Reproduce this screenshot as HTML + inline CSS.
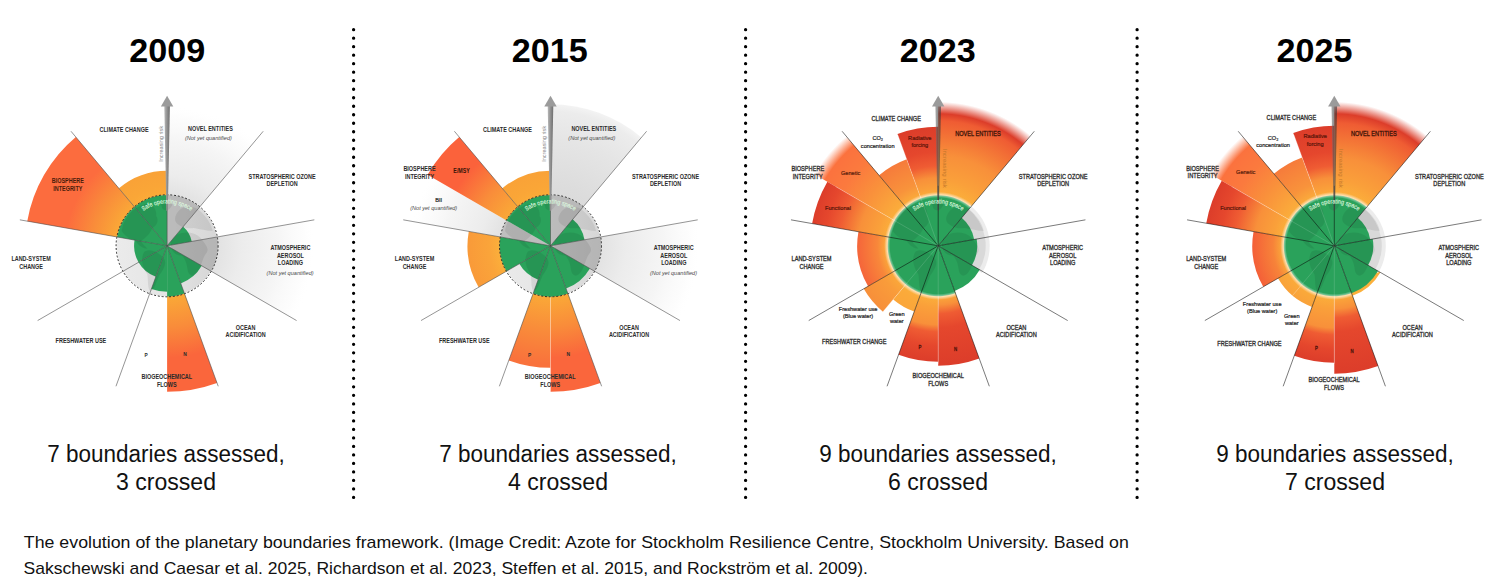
<!DOCTYPE html>
<html><head><meta charset="utf-8"><title>Planetary boundaries</title>
<style>html,body{margin:0;padding:0;background:#fff;overflow:hidden}svg{display:block}text{font-family:"Liberation Sans",sans-serif}</style>
</head><body>
<svg width="1500" height="585" viewBox="0 0 1500 585">
<defs>
<radialGradient id="g1" gradientUnits="userSpaceOnUse" cx="167.1" cy="245.8" r="140"><stop offset="0.0000" stop-color="#dcdcdc" stop-opacity="1"/><stop offset="0.3714" stop-color="#e3e3e3" stop-opacity="1"/><stop offset="0.5000" stop-color="#ececec" stop-opacity="1"/><stop offset="0.7500" stop-color="#f5f5f5" stop-opacity="1"/><stop offset="0.9200" stop-color="#fbfbfb" stop-opacity="0.6"/><stop offset="1.0000" stop-color="#ffffff" stop-opacity="0"/></radialGradient>
<radialGradient id="g2" gradientUnits="userSpaceOnUse" cx="167.1" cy="245.8" r="148"><stop offset="0.0000" stop-color="#dcdcdc" stop-opacity="1"/><stop offset="0.3514" stop-color="#e3e3e3" stop-opacity="1"/><stop offset="0.5000" stop-color="#ececec" stop-opacity="1"/><stop offset="0.7500" stop-color="#f5f5f5" stop-opacity="1"/><stop offset="0.9200" stop-color="#fbfbfb" stop-opacity="0.6"/><stop offset="1.0000" stop-color="#ffffff" stop-opacity="0"/></radialGradient>
<radialGradient id="g3" gradientUnits="userSpaceOnUse" cx="167.1" cy="245.8" r="142"><stop offset="0.3521" stop-color="#faa937"/><stop offset="0.5352" stop-color="#f98c3a"/><stop offset="0.7183" stop-color="#fc6c3e"/><stop offset="1.0000" stop-color="#fc6c3e"/></radialGradient>
<radialGradient id="g4" gradientUnits="userSpaceOnUse" cx="167.1" cy="245.8" r="75"><stop offset="0.6667" stop-color="#fbab38"/><stop offset="0.7833" stop-color="#faa637"/><stop offset="1.0000" stop-color="#f9a237"/></radialGradient>
<radialGradient id="g5" gradientUnits="userSpaceOnUse" cx="167.1" cy="245.8" r="146"><stop offset="0.3425" stop-color="#faa937"/><stop offset="0.5548" stop-color="#f98c3a"/><stop offset="0.7671" stop-color="#fa663c"/><stop offset="1.0000" stop-color="#fa663c"/></radialGradient>
<linearGradient id="gl167" x1="0" x2="1" y1="0" y2="0"><stop offset="0" stop-color="#ebebeb"/><stop offset="0.5" stop-color="#e4e4e4"/><stop offset="1" stop-color="#d6d6d6"/></linearGradient>
<clipPath id="clip167"><circle cx="167.1" cy="245.8" r="50"/></clipPath>
<linearGradient id="ag167" x1="0" x2="1" y1="0" y2="0"><stop offset="0" stop-color="#b9b9b9"/><stop offset="0.55" stop-color="#8c8c8c"/><stop offset="1" stop-color="#6f6f6f"/></linearGradient>
<path id="sp167" d="M141.06,212.47A42.3,42.3 0 0 1 193.14,212.47"/>
<radialGradient id="g6" gradientUnits="userSpaceOnUse" cx="550.5" cy="245.8" r="141.5"><stop offset="0.0000" stop-color="#d4d4d4" stop-opacity="1"/><stop offset="0.4240" stop-color="#dcdcdc" stop-opacity="1"/><stop offset="0.7500" stop-color="#e5e5e5" stop-opacity="1"/><stop offset="0.9500" stop-color="#ececec" stop-opacity="1"/><stop offset="1.0000" stop-color="#f3f3f3" stop-opacity="1"/></radialGradient>
<radialGradient id="g7" gradientUnits="userSpaceOnUse" cx="550.5" cy="245.8" r="150"><stop offset="0.0000" stop-color="#dcdcdc" stop-opacity="1"/><stop offset="0.3467" stop-color="#e3e3e3" stop-opacity="1"/><stop offset="0.5000" stop-color="#ececec" stop-opacity="1"/><stop offset="0.7500" stop-color="#f5f5f5" stop-opacity="1"/><stop offset="0.9200" stop-color="#fbfbfb" stop-opacity="0.6"/><stop offset="1.0000" stop-color="#ffffff" stop-opacity="0"/></radialGradient>
<radialGradient id="g8" gradientUnits="userSpaceOnUse" cx="550.5" cy="245.8" r="140"><stop offset="0.0000" stop-color="#dcdcdc" stop-opacity="1"/><stop offset="0.3714" stop-color="#e3e3e3" stop-opacity="1"/><stop offset="0.5000" stop-color="#ececec" stop-opacity="1"/><stop offset="0.7500" stop-color="#f5f5f5" stop-opacity="1"/><stop offset="0.9200" stop-color="#fbfbfb" stop-opacity="0.6"/><stop offset="1.0000" stop-color="#ffffff" stop-opacity="0"/></radialGradient>
<radialGradient id="g9" gradientUnits="userSpaceOnUse" cx="550.5" cy="245.8" r="142"><stop offset="0.3521" stop-color="#faa937"/><stop offset="0.5634" stop-color="#f98c3a"/><stop offset="0.7746" stop-color="#fb623b"/><stop offset="1.0000" stop-color="#fb623b"/></radialGradient>
<radialGradient id="g10" gradientUnits="userSpaceOnUse" cx="550.5" cy="245.8" r="75"><stop offset="0.6667" stop-color="#fbab38"/><stop offset="0.7833" stop-color="#faa637"/><stop offset="1.0000" stop-color="#f9a237"/></radialGradient>
<radialGradient id="g11" gradientUnits="userSpaceOnUse" cx="550.5" cy="245.8" r="146"><stop offset="0.3425" stop-color="#faa937"/><stop offset="0.5548" stop-color="#f98c3a"/><stop offset="0.7671" stop-color="#fa663c"/><stop offset="1.0000" stop-color="#fa663c"/></radialGradient>
<radialGradient id="g12" gradientUnits="userSpaceOnUse" cx="550.5" cy="245.8" r="122"><stop offset="0.4098" stop-color="#faa937"/><stop offset="0.6885" stop-color="#f98c3a"/><stop offset="0.9672" stop-color="#f9723c"/><stop offset="1.0000" stop-color="#f9723c"/></radialGradient>
<radialGradient id="g13" gradientUnits="userSpaceOnUse" cx="550.5" cy="245.8" r="83"><stop offset="0.6024" stop-color="#fbb03b"/><stop offset="0.7416" stop-color="#faa43a"/><stop offset="1.0000" stop-color="#f99a39"/></radialGradient>
<linearGradient id="gl550" x1="0" x2="1" y1="0" y2="0"><stop offset="0" stop-color="#ebebeb"/><stop offset="0.5" stop-color="#e4e4e4"/><stop offset="1" stop-color="#d6d6d6"/></linearGradient>
<clipPath id="clip550"><circle cx="550.5" cy="245.8" r="50"/></clipPath>
<linearGradient id="ag550" x1="0" x2="1" y1="0" y2="0"><stop offset="0" stop-color="#b9b9b9"/><stop offset="0.55" stop-color="#8c8c8c"/><stop offset="1" stop-color="#6f6f6f"/></linearGradient>
<path id="sp550" d="M524.46,212.47A42.3,42.3 0 0 1 576.54,212.47"/>
<radialGradient id="g14" gradientUnits="userSpaceOnUse" cx="938.2" cy="245.8" r="145"><stop offset="0.3448" stop-color="#fbb03b"/><stop offset="0.4552" stop-color="#faa03a"/><stop offset="0.6207" stop-color="#f8903a"/><stop offset="0.8621" stop-color="#ef5c33"/><stop offset="0.9103" stop-color="#dc3d2a" stop-opacity="1"/><stop offset="0.9931" stop-color="#dc3d2a" stop-opacity="0"/></radialGradient>
<radialGradient id="g15" gradientUnits="userSpaceOnUse" cx="938.2" cy="245.8" r="119"><stop offset="0.4202" stop-color="#fbb03b"/><stop offset="0.4807" stop-color="#faa03a"/><stop offset="0.5714" stop-color="#f8903a"/><stop offset="0.6723" stop-color="#ef5c33"/><stop offset="0.7899" stop-color="#e5472d"/><stop offset="1.0000" stop-color="#dc3d2a"/></radialGradient>
<radialGradient id="g16" gradientUnits="userSpaceOnUse" cx="938.2" cy="245.8" r="92"><stop offset="0.5435" stop-color="#fbb03b"/><stop offset="0.7033" stop-color="#f8933b"/><stop offset="1.0000" stop-color="#f67b3b"/></radialGradient>
<radialGradient id="g17" gradientUnits="userSpaceOnUse" cx="938.2" cy="245.8" r="144"><stop offset="0.3472" stop-color="#fbb03b"/><stop offset="0.5903" stop-color="#f9903b"/><stop offset="0.7639" stop-color="#fb7a3e"/><stop offset="0.9097" stop-color="#fb723e" stop-opacity="1"/><stop offset="0.9931" stop-color="#fb723e" stop-opacity="0"/></radialGradient>
<radialGradient id="g18" gradientUnits="userSpaceOnUse" cx="938.2" cy="245.8" r="128"><stop offset="0.3906" stop-color="#fbb03b"/><stop offset="0.4844" stop-color="#faa03a"/><stop offset="0.6250" stop-color="#f8903a"/><stop offset="0.7812" stop-color="#ef5c33"/><stop offset="0.8906" stop-color="#e5472d"/><stop offset="1.0000" stop-color="#dc3d2a"/></radialGradient>
<radialGradient id="g19" gradientUnits="userSpaceOnUse" cx="938.2" cy="245.8" r="81"><stop offset="0.6173" stop-color="#fbb03b"/><stop offset="0.7512" stop-color="#f8873a"/><stop offset="1.0000" stop-color="#f5653a"/></radialGradient>
<radialGradient id="g20" gradientUnits="userSpaceOnUse" cx="938.2" cy="245.8" r="86"><stop offset="0.5814" stop-color="#fbab3a"/><stop offset="0.7279" stop-color="#f99c3a"/><stop offset="1.0000" stop-color="#f78f3a"/></radialGradient>
<radialGradient id="g21" gradientUnits="userSpaceOnUse" cx="938.2" cy="245.8" r="70"><stop offset="0.7143" stop-color="#fbb03b"/><stop offset="0.8143" stop-color="#fbaa3a"/><stop offset="1.0000" stop-color="#fba63a"/></radialGradient>
<radialGradient id="g22" gradientUnits="userSpaceOnUse" cx="938.2" cy="245.8" r="116"><stop offset="0.4310" stop-color="#fbb03b"/><stop offset="0.5310" stop-color="#faa03a"/><stop offset="0.6810" stop-color="#f8903a"/><stop offset="0.7414" stop-color="#ef5c33"/><stop offset="0.8621" stop-color="#e5472d"/><stop offset="1.0000" stop-color="#dc3d2a"/></radialGradient>
<radialGradient id="g23" gradientUnits="userSpaceOnUse" cx="938.2" cy="245.8" r="120"><stop offset="0.4167" stop-color="#fbb03b"/><stop offset="0.4467" stop-color="#faa03a"/><stop offset="0.4917" stop-color="#f8903a"/><stop offset="0.5667" stop-color="#ef5c33"/><stop offset="0.6833" stop-color="#e5472d"/><stop offset="1.0000" stop-color="#dc3d2a"/></radialGradient>
<clipPath id="clip938"><circle cx="938.2" cy="245.8" r="50"/></clipPath>
<radialGradient id="g24" gradientUnits="userSpaceOnUse" cx="938.2" cy="245.8" r="56"><stop offset="0.8571" stop-color="#ffffff" stop-opacity="0"/><stop offset="0.9107" stop-color="#ffffff" stop-opacity="0.6"/><stop offset="0.9643" stop-color="#ffffff" stop-opacity="0"/></radialGradient>
<linearGradient id="ag938" x1="0" x2="1" y1="0" y2="0"><stop offset="0" stop-color="#777"/><stop offset="0.55" stop-color="#444"/><stop offset="1" stop-color="#333"/></linearGradient>
<path id="sp938" d="M912.16,212.47A42.3,42.3 0 0 1 964.24,212.47"/>
<radialGradient id="g25" gradientUnits="userSpaceOnUse" cx="1334.3" cy="245.8" r="145"><stop offset="0.3448" stop-color="#fbb03b"/><stop offset="0.4497" stop-color="#faa03a"/><stop offset="0.6069" stop-color="#f8903a"/><stop offset="0.8483" stop-color="#ef5c33"/><stop offset="0.9103" stop-color="#dc3d2a" stop-opacity="1"/><stop offset="0.9931" stop-color="#dc3d2a" stop-opacity="0"/></radialGradient>
<radialGradient id="g26" gradientUnits="userSpaceOnUse" cx="1334.3" cy="245.8" r="120"><stop offset="0.4167" stop-color="#fbb03b"/><stop offset="0.4767" stop-color="#faa03a"/><stop offset="0.5667" stop-color="#f8903a"/><stop offset="0.6667" stop-color="#ef5c33"/><stop offset="0.7833" stop-color="#e5472d"/><stop offset="1.0000" stop-color="#dc3d2a"/></radialGradient>
<radialGradient id="g27" gradientUnits="userSpaceOnUse" cx="1334.3" cy="245.8" r="94"><stop offset="0.5319" stop-color="#fbb03b"/><stop offset="0.6957" stop-color="#f8933b"/><stop offset="1.0000" stop-color="#f67b3b"/></radialGradient>
<radialGradient id="g28" gradientUnits="userSpaceOnUse" cx="1334.3" cy="245.8" r="144"><stop offset="0.3472" stop-color="#fbb03b"/><stop offset="0.5903" stop-color="#f9903b"/><stop offset="0.7639" stop-color="#fb7a3e"/><stop offset="0.9097" stop-color="#fb723e" stop-opacity="1"/><stop offset="0.9931" stop-color="#fb723e" stop-opacity="0"/></radialGradient>
<radialGradient id="g29" gradientUnits="userSpaceOnUse" cx="1334.3" cy="245.8" r="130"><stop offset="0.3846" stop-color="#fbb03b"/><stop offset="0.4769" stop-color="#faa03a"/><stop offset="0.6154" stop-color="#f8903a"/><stop offset="0.7692" stop-color="#ef5c33"/><stop offset="0.8769" stop-color="#e5472d"/><stop offset="1.0000" stop-color="#dc3d2a"/></radialGradient>
<radialGradient id="g30" gradientUnits="userSpaceOnUse" cx="1334.3" cy="245.8" r="82"><stop offset="0.6098" stop-color="#fbb03b"/><stop offset="0.7463" stop-color="#f78339"/><stop offset="1.0000" stop-color="#f45f38"/></radialGradient>
<radialGradient id="g31" gradientUnits="userSpaceOnUse" cx="1334.3" cy="245.8" r="65"><stop offset="0.7692" stop-color="#fbb03b"/><stop offset="0.8500" stop-color="#faa83a"/><stop offset="1.0000" stop-color="#f9a23a"/></radialGradient>
<radialGradient id="g32" gradientUnits="userSpaceOnUse" cx="1334.3" cy="245.8" r="117"><stop offset="0.4274" stop-color="#fbb03b"/><stop offset="0.5368" stop-color="#faa03a"/><stop offset="0.7009" stop-color="#f8903a"/><stop offset="0.7607" stop-color="#ef5c33"/><stop offset="0.8803" stop-color="#e5472d"/><stop offset="1.0000" stop-color="#dc3d2a"/></radialGradient>
<radialGradient id="g33" gradientUnits="userSpaceOnUse" cx="1334.3" cy="245.8" r="128"><stop offset="0.3906" stop-color="#fbb03b"/><stop offset="0.4313" stop-color="#faa03a"/><stop offset="0.4922" stop-color="#f8903a"/><stop offset="0.5625" stop-color="#ef5c33"/><stop offset="0.6719" stop-color="#e5472d"/><stop offset="1.0000" stop-color="#dc3d2a"/></radialGradient>
<radialGradient id="g34" gradientUnits="userSpaceOnUse" cx="1334.3" cy="245.8" r="53.2"><stop offset="0.9398" stop-color="#fbb03b"/><stop offset="0.9662" stop-color="#fbb03b"/><stop offset="1.0150" stop-color="#fbb03b"/></radialGradient>
<clipPath id="clip1334"><circle cx="1334.3" cy="245.8" r="50"/></clipPath>
<radialGradient id="g35" gradientUnits="userSpaceOnUse" cx="1334.3" cy="245.8" r="56"><stop offset="0.8571" stop-color="#ffffff" stop-opacity="0"/><stop offset="0.9107" stop-color="#ffffff" stop-opacity="0.6"/><stop offset="0.9643" stop-color="#ffffff" stop-opacity="0"/></radialGradient>
<linearGradient id="ag1334" x1="0" x2="1" y1="0" y2="0"><stop offset="0" stop-color="#777"/><stop offset="0.55" stop-color="#444"/><stop offset="1" stop-color="#333"/></linearGradient>
<path id="sp1334" d="M1308.26,212.47A42.3,42.3 0 0 1 1360.34,212.47"/>
</defs>
<path d="M167.10,245.80L167.10,105.80A140.00,140.00 0 0 1 257.09,138.55Z" fill="url(#g1)"/><path d="M167.10,245.80L312.85,220.10A148.00,148.00 0 0 1 295.27,319.80Z" fill="url(#g2)"/><path d="M27.26,221.14A142.00,142.00 0 0 1 75.82,137.02L138.17,211.33A45.00,45.00 0 0 0 122.78,237.99Z" fill="url(#g3)"/><path d="M118.89,188.35A75.00,75.00 0 0 1 167.10,170.80L167.10,200.80A45.00,45.00 0 0 0 138.17,211.33Z" fill="url(#g4)"/><path d="M217.03,383.00A146.00,146.00 0 0 1 167.10,391.80L167.10,290.80A45.00,45.00 0 0 0 182.49,288.09Z" fill="url(#g5)"/><circle cx="167.1" cy="245.8" r="50.5" fill="url(#gl167)"/><path d="M167.10,245.80L167.10,195.00A50.80,50.80 0 0 1 199.75,206.88Z" fill="#9a9a9a" fill-opacity="0.55"/><path d="M167.10,245.80L217.13,236.98A50.80,50.80 0 0 1 211.09,271.20Z" fill="#9a9a9a" fill-opacity="0.55"/><path d="M167.10,245.80L134.45,206.88A50.80,50.80 0 0 1 167.10,195.00Z" fill="#2aa25b"/><path d="M167.10,245.80L117.07,236.98A50.80,50.80 0 0 1 134.45,206.88Z" fill="#2aa25b"/><path d="M167.10,245.80L183.17,226.65A25.00,25.00 0 0 1 191.72,241.46Z" fill="#2aa25b"/><path d="M167.10,245.80L201.74,265.80A40.00,40.00 0 0 1 180.78,283.39Z" fill="#2aa25b"/><path d="M167.10,245.80L184.47,293.54A50.80,50.80 0 0 1 167.10,296.60Z" fill="#2aa25b"/><path d="M167.10,245.80L167.10,291.80A46.00,46.00 0 0 1 151.37,289.03Z" fill="#2aa25b"/><path d="M167.10,245.80L155.81,276.81A33.00,33.00 0 0 1 138.52,262.30Z" fill="#2aa25b"/><path d="M167.10,245.80L138.52,262.30A33.00,33.00 0 0 1 134.60,240.07Z" fill="#2aa25b"/><g clip-path="url(#clip167)"><g transform="translate(167.1,245.8) scale(49.5)" fill="#000" fill-opacity="0.075"><path d="M-0.92,-0.30 C-0.88,-0.55 -0.70,-0.78 -0.45,-0.84 C-0.30,-0.86 -0.20,-0.74 -0.22,-0.60 C-0.16,-0.52 -0.20,-0.40 -0.30,-0.36 C-0.34,-0.24 -0.44,-0.16 -0.52,-0.10 C-0.50,-0.02 -0.42,0.02 -0.40,0.06 C-0.48,0.06 -0.58,0.0 -0.64,-0.10 C-0.74,-0.14 -0.84,-0.18 -0.92,-0.30Z"/><path d="M-0.14,-0.90 C-0.02,-0.97 0.12,-0.92 0.10,-0.82 C0.06,-0.72 -0.04,-0.68 -0.10,-0.76Z"/><path d="M-0.46,0.12 C-0.36,0.04 -0.16,0.12 -0.06,0.26 C0.0,0.36 -0.08,0.50 -0.16,0.60 C-0.22,0.74 -0.26,0.90 -0.34,0.92 C-0.40,0.86 -0.38,0.70 -0.40,0.58 C-0.48,0.46 -0.56,0.28 -0.46,0.12Z"/><path d="M0.20,-0.22 C0.34,-0.30 0.56,-0.28 0.68,-0.16 C0.76,-0.04 0.86,0.04 0.80,0.14 C0.72,0.22 0.70,0.40 0.62,0.52 C0.56,0.62 0.46,0.64 0.42,0.52 C0.40,0.38 0.38,0.28 0.30,0.20 C0.20,0.20 0.10,0.14 0.08,0.02 C0.06,-0.10 0.12,-0.18 0.20,-0.22Z"/><path d="M0.18,-0.62 C0.26,-0.80 0.46,-0.84 0.62,-0.74 C0.78,-0.62 0.90,-0.44 0.92,-0.30 C0.80,-0.30 0.66,-0.34 0.54,-0.36 C0.44,-0.34 0.32,-0.36 0.24,-0.42 C0.16,-0.46 0.14,-0.54 0.18,-0.62Z"/></g></g><circle cx="167.1" cy="245.8" r="51" fill="none" stroke="#2a2a2a" stroke-width="1" stroke-dasharray="1.9 1.9"/><line x1="167.1" y1="245.8" x2="167.10" y2="185.80" stroke="#4a4a4a" stroke-opacity="0.9" stroke-width="0.65"/><line x1="167.1" y1="245.8" x2="263.20" y2="131.28" stroke="#4a4a4a" stroke-opacity="0.9" stroke-width="0.65"/><line x1="167.1" y1="245.8" x2="314.33" y2="219.84" stroke="#4a4a4a" stroke-opacity="0.9" stroke-width="0.65"/><line x1="167.1" y1="245.8" x2="296.57" y2="320.55" stroke="#4a4a4a" stroke-opacity="0.9" stroke-width="0.65"/><line x1="167.1" y1="245.8" x2="218.23" y2="386.28" stroke="#4a4a4a" stroke-opacity="0.9" stroke-width="0.65"/><line x1="167.1" y1="245.8" x2="115.97" y2="386.28" stroke="#4a4a4a" stroke-opacity="0.9" stroke-width="0.65"/><line x1="167.1" y1="245.8" x2="37.63" y2="320.55" stroke="#4a4a4a" stroke-opacity="0.9" stroke-width="0.65"/><line x1="167.1" y1="245.8" x2="19.87" y2="219.84" stroke="#4a4a4a" stroke-opacity="0.9" stroke-width="0.65"/><line x1="167.1" y1="245.8" x2="71.00" y2="131.28" stroke="#4a4a4a" stroke-opacity="0.9" stroke-width="0.65"/><path d="M166.40,210.80L164.30,105.80L169.90,105.80L167.80,210.80Z" fill="url(#ag167)" fill-opacity="1"/><path d="M160.90,106.60L167.10,95.80L173.30,106.60Z" fill="#9b9b9b"/><text font-size="6.4" fill="#dcf6df" stroke="#dcf6df" stroke-width="0.15"><textPath href="#sp167" startOffset="50%" text-anchor="middle" textLength="50.5" lengthAdjust="spacingAndGlyphs">Safe operating space</textPath></text><text transform="translate(162.7,161.8) rotate(-90)" font-size="5.6" fill="#858585" textLength="36" lengthAdjust="spacingAndGlyphs">Increasing risk</text>
<path d="M550.50,245.80L550.50,104.30A141.50,141.50 0 0 1 641.45,137.40Z" fill="url(#g6)"/><path d="M550.50,245.80L698.22,219.75A150.00,150.00 0 0 1 680.40,320.80Z" fill="url(#g7)"/><path d="M550.50,245.80L412.63,221.49A140.00,140.00 0 0 1 429.26,175.80Z" fill="url(#g8)"/><path d="M427.52,174.80A142.00,142.00 0 0 1 459.22,137.02L521.57,211.33A45.00,45.00 0 0 0 511.53,223.30Z" fill="url(#g9)"/><path d="M502.29,188.35A75.00,75.00 0 0 1 550.50,170.80L550.50,200.80A45.00,45.00 0 0 0 521.57,211.33Z" fill="url(#g10)"/><path d="M600.43,383.00A146.00,146.00 0 0 1 550.50,391.80L550.50,290.80A45.00,45.00 0 0 0 565.89,288.09Z" fill="url(#g11)"/><path d="M550.50,367.80A122.00,122.00 0 0 1 508.77,360.44L535.11,288.09A45.00,45.00 0 0 0 550.50,290.80Z" fill="url(#g12)"/><path d="M478.62,287.30A83.00,83.00 0 0 1 468.76,231.39L506.18,237.99A45.00,45.00 0 0 0 511.53,268.30Z" fill="url(#g13)"/><circle cx="550.5" cy="245.8" r="50.5" fill="url(#gl550)"/><path d="M550.50,245.80L550.50,195.00A50.80,50.80 0 0 1 583.15,206.88Z" fill="#9a9a9a" fill-opacity="0.55"/><path d="M550.50,245.80L600.53,236.98A50.80,50.80 0 0 1 594.49,271.20Z" fill="#9a9a9a" fill-opacity="0.55"/><path d="M550.50,245.80L500.47,236.98A50.80,50.80 0 0 1 506.51,220.40Z" fill="#9a9a9a" fill-opacity="0.55"/><path d="M550.50,245.80L517.85,206.88A50.80,50.80 0 0 1 550.50,195.00Z" fill="#2aa25b"/><path d="M550.50,245.80L506.51,220.40A50.80,50.80 0 0 1 517.85,206.88Z" fill="#2aa25b"/><path d="M550.50,245.80L572.68,219.37A34.50,34.50 0 0 1 584.48,239.81Z" fill="#2aa25b"/><path d="M550.50,245.80L589.90,268.55A45.50,45.50 0 0 1 566.06,288.56Z" fill="#2aa25b"/><path d="M550.50,245.80L567.87,293.54A50.80,50.80 0 0 1 533.13,293.54Z" fill="#2aa25b"/><path d="M550.50,245.80L538.19,279.63A36.00,36.00 0 0 1 519.32,263.80Z" fill="#2aa25b"/><path d="M550.50,245.80L506.51,271.20A50.80,50.80 0 0 1 500.47,236.98Z" fill="#2aa25b"/><g clip-path="url(#clip550)"><g transform="translate(550.5,245.8) scale(49.5)" fill="#000" fill-opacity="0.075"><path d="M-0.92,-0.30 C-0.88,-0.55 -0.70,-0.78 -0.45,-0.84 C-0.30,-0.86 -0.20,-0.74 -0.22,-0.60 C-0.16,-0.52 -0.20,-0.40 -0.30,-0.36 C-0.34,-0.24 -0.44,-0.16 -0.52,-0.10 C-0.50,-0.02 -0.42,0.02 -0.40,0.06 C-0.48,0.06 -0.58,0.0 -0.64,-0.10 C-0.74,-0.14 -0.84,-0.18 -0.92,-0.30Z"/><path d="M-0.14,-0.90 C-0.02,-0.97 0.12,-0.92 0.10,-0.82 C0.06,-0.72 -0.04,-0.68 -0.10,-0.76Z"/><path d="M-0.46,0.12 C-0.36,0.04 -0.16,0.12 -0.06,0.26 C0.0,0.36 -0.08,0.50 -0.16,0.60 C-0.22,0.74 -0.26,0.90 -0.34,0.92 C-0.40,0.86 -0.38,0.70 -0.40,0.58 C-0.48,0.46 -0.56,0.28 -0.46,0.12Z"/><path d="M0.20,-0.22 C0.34,-0.30 0.56,-0.28 0.68,-0.16 C0.76,-0.04 0.86,0.04 0.80,0.14 C0.72,0.22 0.70,0.40 0.62,0.52 C0.56,0.62 0.46,0.64 0.42,0.52 C0.40,0.38 0.38,0.28 0.30,0.20 C0.20,0.20 0.10,0.14 0.08,0.02 C0.06,-0.10 0.12,-0.18 0.20,-0.22Z"/><path d="M0.18,-0.62 C0.26,-0.80 0.46,-0.84 0.62,-0.74 C0.78,-0.62 0.90,-0.44 0.92,-0.30 C0.80,-0.30 0.66,-0.34 0.54,-0.36 C0.44,-0.34 0.32,-0.36 0.24,-0.42 C0.16,-0.46 0.14,-0.54 0.18,-0.62Z"/></g></g><circle cx="550.5" cy="245.8" r="51" fill="none" stroke="#2a2a2a" stroke-width="1" stroke-dasharray="1.9 1.9"/><line x1="550.5" y1="245.8" x2="550.50" y2="185.80" stroke="#4a4a4a" stroke-opacity="0.9" stroke-width="0.65"/><line x1="550.5" y1="245.8" x2="646.60" y2="131.28" stroke="#4a4a4a" stroke-opacity="0.9" stroke-width="0.65"/><line x1="550.5" y1="245.8" x2="697.73" y2="219.84" stroke="#4a4a4a" stroke-opacity="0.9" stroke-width="0.65"/><line x1="550.5" y1="245.8" x2="679.97" y2="320.55" stroke="#4a4a4a" stroke-opacity="0.9" stroke-width="0.65"/><line x1="550.5" y1="245.8" x2="601.63" y2="386.28" stroke="#4a4a4a" stroke-opacity="0.9" stroke-width="0.65"/><line x1="550.5" y1="245.8" x2="499.37" y2="386.28" stroke="#4a4a4a" stroke-opacity="0.9" stroke-width="0.65"/><line x1="550.5" y1="245.8" x2="421.03" y2="320.55" stroke="#4a4a4a" stroke-opacity="0.9" stroke-width="0.65"/><line x1="550.5" y1="245.8" x2="403.27" y2="219.84" stroke="#4a4a4a" stroke-opacity="0.9" stroke-width="0.65"/><line x1="550.5" y1="245.8" x2="454.40" y2="131.28" stroke="#4a4a4a" stroke-opacity="0.9" stroke-width="0.65"/><line x1="550.50" y1="296.80" x2="550.50" y2="391.80" stroke="#ffffff" stroke-opacity="0.45" stroke-width="0.6"/><path d="M549.80,210.80L547.70,105.80L553.30,105.80L551.20,210.80Z" fill="url(#ag550)" fill-opacity="1"/><path d="M544.30,106.60L550.50,95.80L556.70,106.60Z" fill="#9b9b9b"/><text font-size="6.4" fill="#dcf6df" stroke="#dcf6df" stroke-width="0.15"><textPath href="#sp550" startOffset="50%" text-anchor="middle" textLength="50.5" lengthAdjust="spacingAndGlyphs">Safe operating space</textPath></text><text transform="translate(546.1,161.8) rotate(-90)" font-size="5.6" fill="#858585" textLength="36" lengthAdjust="spacingAndGlyphs">Increasing risk</text>
<path d="M938.20,100.80A145.00,145.00 0 0 1 1031.40,134.72L967.13,211.33A45.00,45.00 0 0 0 938.20,200.80Z" fill="url(#g14)"/><path d="M897.50,133.98A119.00,119.00 0 0 1 938.20,126.80L938.20,200.80A45.00,45.00 0 0 0 922.81,203.51Z" fill="url(#g15)"/><path d="M879.06,175.32A92.00,92.00 0 0 1 906.73,159.35L922.81,203.51A45.00,45.00 0 0 0 909.27,211.33Z" fill="url(#g16)"/><path d="M813.49,173.80A144.00,144.00 0 0 1 845.64,135.49L909.27,211.33A45.00,45.00 0 0 0 899.23,223.30Z" fill="url(#g17)"/><path d="M812.14,223.57A128.00,128.00 0 0 1 827.35,181.80L899.23,223.30A45.00,45.00 0 0 0 893.88,237.99Z" fill="url(#g18)"/><path d="M868.05,286.30A81.00,81.00 0 0 1 858.43,231.73L893.88,237.99A45.00,45.00 0 0 0 899.23,268.30Z" fill="url(#g19)"/><path d="M882.92,311.68A86.00,86.00 0 0 1 863.72,288.80L899.23,268.30A45.00,45.00 0 0 0 909.27,280.27Z" fill="url(#g20)"/><path d="M914.26,311.58A70.00,70.00 0 0 1 893.20,299.42L909.27,280.27A45.00,45.00 0 0 0 922.81,288.09Z" fill="url(#g21)"/><path d="M938.20,361.80A116.00,116.00 0 0 1 898.53,354.80L922.81,288.09A45.00,45.00 0 0 0 938.20,290.80Z" fill="url(#g22)"/><path d="M979.24,358.56A120.00,120.00 0 0 1 938.20,365.80L938.20,290.80A45.00,45.00 0 0 0 953.59,288.09Z" fill="url(#g23)"/><path d="M938.20,245.80L969.91,205.22A51.50,51.50 0 0 1 981.87,273.09Z" fill="#ececec"/><path d="M938.20,245.80L967.44,208.37A47.50,47.50 0 0 1 978.48,270.97Z" fill="#d9d9d9"/><path d="M938.20,245.80L955.47,293.25A50.50,50.50 0 1 1 970.66,207.11Z" fill="#2aa25b"/><path d="M938.20,245.80L961.66,217.84A36.50,36.50 0 0 1 974.15,239.46Z" fill="#2aa25b"/><path d="M938.20,245.80L976.61,239.03A39.00,39.00 0 0 1 971.97,265.30Z" fill="#2aa25b"/><path d="M938.20,245.80L979.77,269.80A48.00,48.00 0 0 1 954.62,290.91Z" fill="#2aa25b"/><g clip-path="url(#clip938)"><g transform="translate(938.2,245.8) scale(49.5)" fill="#000" fill-opacity="0.075"><path d="M-0.92,-0.30 C-0.88,-0.55 -0.70,-0.78 -0.45,-0.84 C-0.30,-0.86 -0.20,-0.74 -0.22,-0.60 C-0.16,-0.52 -0.20,-0.40 -0.30,-0.36 C-0.34,-0.24 -0.44,-0.16 -0.52,-0.10 C-0.50,-0.02 -0.42,0.02 -0.40,0.06 C-0.48,0.06 -0.58,0.0 -0.64,-0.10 C-0.74,-0.14 -0.84,-0.18 -0.92,-0.30Z"/><path d="M-0.14,-0.90 C-0.02,-0.97 0.12,-0.92 0.10,-0.82 C0.06,-0.72 -0.04,-0.68 -0.10,-0.76Z"/><path d="M-0.46,0.12 C-0.36,0.04 -0.16,0.12 -0.06,0.26 C0.0,0.36 -0.08,0.50 -0.16,0.60 C-0.22,0.74 -0.26,0.90 -0.34,0.92 C-0.40,0.86 -0.38,0.70 -0.40,0.58 C-0.48,0.46 -0.56,0.28 -0.46,0.12Z"/><path d="M0.20,-0.22 C0.34,-0.30 0.56,-0.28 0.68,-0.16 C0.76,-0.04 0.86,0.04 0.80,0.14 C0.72,0.22 0.70,0.40 0.62,0.52 C0.56,0.62 0.46,0.64 0.42,0.52 C0.40,0.38 0.38,0.28 0.30,0.20 C0.20,0.20 0.10,0.14 0.08,0.02 C0.06,-0.10 0.12,-0.18 0.20,-0.22Z"/><path d="M0.18,-0.62 C0.26,-0.80 0.46,-0.84 0.62,-0.74 C0.78,-0.62 0.90,-0.44 0.92,-0.30 C0.80,-0.30 0.66,-0.34 0.54,-0.36 C0.44,-0.34 0.32,-0.36 0.24,-0.42 C0.16,-0.46 0.14,-0.54 0.18,-0.62Z"/></g></g><path d="M957.35,298.42A56.00,56.00 0 1 1 974.20,202.90L967.77,210.56A46.00,46.00 0 1 0 953.93,289.03Z" fill="url(#g24)"/><line x1="938.2" y1="245.8" x2="938.20" y2="185.80" stroke="#0a0a0a" stroke-opacity="0.72" stroke-width="0.75"/><line x1="938.2" y1="245.8" x2="1034.30" y2="131.28" stroke="#0a0a0a" stroke-opacity="0.72" stroke-width="0.75"/><line x1="938.2" y1="245.8" x2="1085.43" y2="219.84" stroke="#0a0a0a" stroke-opacity="0.72" stroke-width="0.75"/><line x1="938.2" y1="245.8" x2="1067.67" y2="320.55" stroke="#0a0a0a" stroke-opacity="0.72" stroke-width="0.75"/><line x1="938.2" y1="245.8" x2="989.33" y2="386.28" stroke="#0a0a0a" stroke-opacity="0.72" stroke-width="0.75"/><line x1="938.2" y1="245.8" x2="887.07" y2="386.28" stroke="#0a0a0a" stroke-opacity="0.72" stroke-width="0.75"/><line x1="938.2" y1="245.8" x2="808.73" y2="320.55" stroke="#0a0a0a" stroke-opacity="0.72" stroke-width="0.75"/><line x1="938.2" y1="245.8" x2="790.97" y2="219.84" stroke="#0a0a0a" stroke-opacity="0.72" stroke-width="0.75"/><line x1="938.2" y1="245.8" x2="842.10" y2="131.28" stroke="#0a0a0a" stroke-opacity="0.72" stroke-width="0.75"/><line x1="938.20" y1="245.80" x2="921.10" y2="198.82" stroke="#ffffff" stroke-opacity="0.2" stroke-width="0.7"/><line x1="921.10" y1="198.82" x2="897.84" y2="134.92" stroke="#ffffff" stroke-opacity="0.45" stroke-width="0.6"/><line x1="938.20" y1="245.80" x2="894.90" y2="220.80" stroke="#ffffff" stroke-opacity="0.2" stroke-width="0.7"/><line x1="894.90" y1="220.80" x2="836.01" y2="186.80" stroke="#ffffff" stroke-opacity="0.45" stroke-width="0.6"/><line x1="938.20" y1="245.80" x2="938.20" y2="295.80" stroke="#ffffff" stroke-opacity="0.2" stroke-width="0.7"/><line x1="938.20" y1="295.80" x2="938.20" y2="363.80" stroke="#ffffff" stroke-opacity="0.45" stroke-width="0.6"/><line x1="938.20" y1="245.80" x2="906.06" y2="284.10" stroke="#ffffff" stroke-opacity="0.2" stroke-width="0.7"/><line x1="906.06" y1="284.10" x2="862.35" y2="336.19" stroke="#ffffff" stroke-opacity="0.45" stroke-width="0.6"/><path d="M937.50,210.80L935.40,105.80L941.00,105.80L938.90,210.80Z" fill="url(#ag938)" fill-opacity="0.62"/><path d="M932.00,106.60L938.20,95.80L944.40,106.60Z" fill="#9b9b9b"/><text font-size="6.4" fill="#dcf6df" stroke="#dcf6df" stroke-width="0.15"><textPath href="#sp938" startOffset="50%" text-anchor="middle" textLength="50.5" lengthAdjust="spacingAndGlyphs">Safe operating space</textPath></text><text transform="translate(942.8,148.8) rotate(90)" font-size="5.6" fill="#c4772a" textLength="39" lengthAdjust="spacingAndGlyphs">Increasing risk</text>
<path d="M1334.30,100.80A145.00,145.00 0 0 1 1427.50,134.72L1363.23,211.33A45.00,45.00 0 0 0 1334.30,200.80Z" fill="url(#g25)"/><path d="M1293.26,133.04A120.00,120.00 0 0 1 1334.30,125.80L1334.30,200.80A45.00,45.00 0 0 0 1318.91,203.51Z" fill="url(#g26)"/><path d="M1273.88,173.79A94.00,94.00 0 0 1 1302.15,157.47L1318.91,203.51A45.00,45.00 0 0 0 1305.37,211.33Z" fill="url(#g27)"/><path d="M1209.59,173.80A144.00,144.00 0 0 1 1241.74,135.49L1305.37,211.33A45.00,45.00 0 0 0 1295.33,223.30Z" fill="url(#g28)"/><path d="M1206.27,223.23A130.00,130.00 0 0 1 1221.72,180.80L1295.33,223.30A45.00,45.00 0 0 0 1289.98,237.99Z" fill="url(#g29)"/><path d="M1263.29,286.80A82.00,82.00 0 0 1 1253.55,231.56L1289.98,237.99A45.00,45.00 0 0 0 1295.33,268.30Z" fill="url(#g30)"/><path d="M1312.07,306.88A65.00,65.00 0 0 1 1278.01,278.30L1295.33,268.30A45.00,45.00 0 0 0 1318.91,288.09Z" fill="url(#g31)"/><path d="M1334.30,362.80A117.00,117.00 0 0 1 1294.28,355.74L1318.91,288.09A45.00,45.00 0 0 0 1334.30,290.80Z" fill="url(#g32)"/><path d="M1378.08,366.08A128.00,128.00 0 0 1 1334.30,373.80L1334.30,290.80A45.00,45.00 0 0 0 1349.69,288.09Z" fill="url(#g33)"/><path d="M1380.37,272.40A53.20,53.20 0 0 1 1352.50,295.79L1349.69,288.09A45.00,45.00 0 0 0 1373.27,268.30Z" fill="url(#g34)"/><path d="M1334.30,245.80L1366.01,205.22A51.50,51.50 0 0 1 1377.97,273.09Z" fill="#ececec"/><path d="M1334.30,245.80L1363.54,208.37A47.50,47.50 0 0 1 1374.58,270.97Z" fill="#d9d9d9"/><path d="M1334.30,245.80L1351.57,293.25A50.50,50.50 0 1 1 1366.76,207.11Z" fill="#2aa25b"/><path d="M1334.30,245.80L1357.76,217.84A36.50,36.50 0 0 1 1370.25,239.46Z" fill="#2aa25b"/><path d="M1334.30,245.80L1372.71,239.03A39.00,39.00 0 0 1 1368.07,265.30Z" fill="#2aa25b"/><path d="M1334.30,245.80L1378.03,271.05A50.50,50.50 0 0 1 1351.57,293.25Z" fill="#2aa25b"/><g clip-path="url(#clip1334)"><g transform="translate(1334.3,245.8) scale(49.5)" fill="#000" fill-opacity="0.075"><path d="M-0.92,-0.30 C-0.88,-0.55 -0.70,-0.78 -0.45,-0.84 C-0.30,-0.86 -0.20,-0.74 -0.22,-0.60 C-0.16,-0.52 -0.20,-0.40 -0.30,-0.36 C-0.34,-0.24 -0.44,-0.16 -0.52,-0.10 C-0.50,-0.02 -0.42,0.02 -0.40,0.06 C-0.48,0.06 -0.58,0.0 -0.64,-0.10 C-0.74,-0.14 -0.84,-0.18 -0.92,-0.30Z"/><path d="M-0.14,-0.90 C-0.02,-0.97 0.12,-0.92 0.10,-0.82 C0.06,-0.72 -0.04,-0.68 -0.10,-0.76Z"/><path d="M-0.46,0.12 C-0.36,0.04 -0.16,0.12 -0.06,0.26 C0.0,0.36 -0.08,0.50 -0.16,0.60 C-0.22,0.74 -0.26,0.90 -0.34,0.92 C-0.40,0.86 -0.38,0.70 -0.40,0.58 C-0.48,0.46 -0.56,0.28 -0.46,0.12Z"/><path d="M0.20,-0.22 C0.34,-0.30 0.56,-0.28 0.68,-0.16 C0.76,-0.04 0.86,0.04 0.80,0.14 C0.72,0.22 0.70,0.40 0.62,0.52 C0.56,0.62 0.46,0.64 0.42,0.52 C0.40,0.38 0.38,0.28 0.30,0.20 C0.20,0.20 0.10,0.14 0.08,0.02 C0.06,-0.10 0.12,-0.18 0.20,-0.22Z"/><path d="M0.18,-0.62 C0.26,-0.80 0.46,-0.84 0.62,-0.74 C0.78,-0.62 0.90,-0.44 0.92,-0.30 C0.80,-0.30 0.66,-0.34 0.54,-0.36 C0.44,-0.34 0.32,-0.36 0.24,-0.42 C0.16,-0.46 0.14,-0.54 0.18,-0.62Z"/></g></g><path d="M1353.45,298.42A56.00,56.00 0 1 1 1370.30,202.90L1363.87,210.56A46.00,46.00 0 1 0 1350.03,289.03Z" fill="url(#g35)"/><line x1="1334.3" y1="245.8" x2="1334.30" y2="185.80" stroke="#0a0a0a" stroke-opacity="0.72" stroke-width="0.75"/><line x1="1334.3" y1="245.8" x2="1430.40" y2="131.28" stroke="#0a0a0a" stroke-opacity="0.72" stroke-width="0.75"/><line x1="1334.3" y1="245.8" x2="1481.53" y2="219.84" stroke="#0a0a0a" stroke-opacity="0.72" stroke-width="0.75"/><line x1="1334.3" y1="245.8" x2="1463.77" y2="320.55" stroke="#0a0a0a" stroke-opacity="0.72" stroke-width="0.75"/><line x1="1334.3" y1="245.8" x2="1385.43" y2="386.28" stroke="#0a0a0a" stroke-opacity="0.72" stroke-width="0.75"/><line x1="1334.3" y1="245.8" x2="1283.17" y2="386.28" stroke="#0a0a0a" stroke-opacity="0.72" stroke-width="0.75"/><line x1="1334.3" y1="245.8" x2="1204.83" y2="320.55" stroke="#0a0a0a" stroke-opacity="0.72" stroke-width="0.75"/><line x1="1334.3" y1="245.8" x2="1187.07" y2="219.84" stroke="#0a0a0a" stroke-opacity="0.72" stroke-width="0.75"/><line x1="1334.3" y1="245.8" x2="1238.20" y2="131.28" stroke="#0a0a0a" stroke-opacity="0.72" stroke-width="0.75"/><line x1="1334.30" y1="245.80" x2="1317.20" y2="198.82" stroke="#ffffff" stroke-opacity="0.2" stroke-width="0.7"/><line x1="1317.20" y1="198.82" x2="1293.94" y2="134.92" stroke="#ffffff" stroke-opacity="0.45" stroke-width="0.6"/><line x1="1334.30" y1="245.80" x2="1291.00" y2="220.80" stroke="#ffffff" stroke-opacity="0.2" stroke-width="0.7"/><line x1="1291.00" y1="220.80" x2="1232.11" y2="186.80" stroke="#ffffff" stroke-opacity="0.45" stroke-width="0.6"/><line x1="1334.30" y1="245.80" x2="1334.30" y2="295.80" stroke="#ffffff" stroke-opacity="0.2" stroke-width="0.7"/><line x1="1334.30" y1="295.80" x2="1334.30" y2="363.80" stroke="#ffffff" stroke-opacity="0.45" stroke-width="0.6"/><line x1="1334.30" y1="245.80" x2="1302.16" y2="284.10" stroke="#ffffff" stroke-opacity="0.2" stroke-width="0.7"/><line x1="1302.16" y1="284.10" x2="1258.45" y2="336.19" stroke="#ffffff" stroke-opacity="0.45" stroke-width="0.6"/><path d="M1333.60,210.80L1331.50,105.80L1337.10,105.80L1335.00,210.80Z" fill="url(#ag1334)" fill-opacity="0.62"/><path d="M1328.10,106.60L1334.30,95.80L1340.50,106.60Z" fill="#9b9b9b"/><text font-size="6.4" fill="#dcf6df" stroke="#dcf6df" stroke-width="0.15"><textPath href="#sp1334" startOffset="50%" text-anchor="middle" textLength="50.5" lengthAdjust="spacingAndGlyphs">Safe operating space</textPath></text><text transform="translate(1338.9,148.8) rotate(90)" font-size="5.6" fill="#c4772a" textLength="39" lengthAdjust="spacingAndGlyphs">Increasing risk</text>
<text x="282.1" y="178.6" font-size="6.5" font-weight="bold" fill="#2b2b2b" text-anchor="middle" textLength="67.1" lengthAdjust="spacingAndGlyphs">STRATOSPHERIC OZONE</text><text x="282.1" y="186.1" font-size="6.5" font-weight="bold" fill="#2b2b2b" text-anchor="middle" textLength="31.2" lengthAdjust="spacingAndGlyphs">DEPLETION</text><text x="290.4" y="250.0" font-size="6.5" font-weight="bold" fill="#2b2b2b" text-anchor="middle" textLength="39.9" lengthAdjust="spacingAndGlyphs">ATMOSPHERIC</text><text x="290.4" y="257.5" font-size="6.5" font-weight="bold" fill="#2b2b2b" text-anchor="middle" textLength="27.0" lengthAdjust="spacingAndGlyphs">AEROSOL</text><text x="290.4" y="265.0" font-size="6.5" font-weight="bold" fill="#2b2b2b" text-anchor="middle" textLength="25.2" lengthAdjust="spacingAndGlyphs">LOADING</text><text x="245.6" y="329.5" font-size="6.5" font-weight="bold" fill="#2b2b2b" text-anchor="middle" textLength="19.7" lengthAdjust="spacingAndGlyphs">OCEAN</text><text x="245.6" y="337.0" font-size="6.5" font-weight="bold" fill="#2b2b2b" text-anchor="middle" textLength="40.2" lengthAdjust="spacingAndGlyphs">ACIDIFICATION</text><text x="166.8" y="379.3" font-size="6.5" font-weight="bold" fill="#2b2b2b" text-anchor="middle" textLength="50.7" lengthAdjust="spacingAndGlyphs">BIOGEOCHEMICAL</text><text x="166.8" y="386.8" font-size="6.5" font-weight="bold" fill="#2b2b2b" text-anchor="middle" textLength="19.7" lengthAdjust="spacingAndGlyphs">FLOWS</text><text x="31.1" y="261.0" font-size="6.5" font-weight="bold" fill="#2b2b2b" text-anchor="middle" textLength="39.4" lengthAdjust="spacingAndGlyphs">LAND-SYSTEM</text><text x="31.1" y="268.7" font-size="6.5" font-weight="bold" fill="#2b2b2b" text-anchor="middle" textLength="23.7" lengthAdjust="spacingAndGlyphs">CHANGE</text><text x="124.1" y="131.5" font-size="6.5" font-weight="bold" fill="#2b2b2b" text-anchor="middle" textLength="49.0" lengthAdjust="spacingAndGlyphs">CLIMATE CHANGE</text><text x="210.4" y="130.6" font-size="6.5" font-weight="bold" fill="#2b2b2b" text-anchor="middle" textLength="44.8" lengthAdjust="spacingAndGlyphs">NOVEL ENTITIES</text><text x="208.4" y="140.4" font-size="5.8" font-weight="normal" font-style="italic" fill="#4a4a4a" text-anchor="middle" textLength="47.0" lengthAdjust="spacingAndGlyphs">(Not yet quantified)</text><text x="290.1" y="275.0" font-size="5.8" font-weight="normal" font-style="italic" fill="#4a4a4a" text-anchor="middle" textLength="47.0" lengthAdjust="spacingAndGlyphs">(Not yet quantified)</text><text x="80.9" y="343.3" font-size="6.5" font-weight="bold" fill="#2b2b2b" text-anchor="middle" textLength="50.6" lengthAdjust="spacingAndGlyphs">FRESHWATER USE</text><text x="146.2" y="357.0" font-size="5.8" font-weight="bold" fill="#2b2b2b" text-anchor="middle" textLength="3.2" lengthAdjust="spacingAndGlyphs">P</text><text x="184.9" y="356.0" font-size="5.8" font-weight="bold" fill="#2b2b2b" text-anchor="middle" textLength="3.5" lengthAdjust="spacingAndGlyphs">N</text><text x="665.5" y="178.6" font-size="6.5" font-weight="bold" fill="#2b2b2b" text-anchor="middle" textLength="67.1" lengthAdjust="spacingAndGlyphs">STRATOSPHERIC OZONE</text><text x="665.5" y="186.1" font-size="6.5" font-weight="bold" fill="#2b2b2b" text-anchor="middle" textLength="31.2" lengthAdjust="spacingAndGlyphs">DEPLETION</text><text x="673.8" y="250.0" font-size="6.5" font-weight="bold" fill="#2b2b2b" text-anchor="middle" textLength="39.9" lengthAdjust="spacingAndGlyphs">ATMOSPHERIC</text><text x="673.8" y="257.5" font-size="6.5" font-weight="bold" fill="#2b2b2b" text-anchor="middle" textLength="27.0" lengthAdjust="spacingAndGlyphs">AEROSOL</text><text x="673.8" y="265.0" font-size="6.5" font-weight="bold" fill="#2b2b2b" text-anchor="middle" textLength="25.2" lengthAdjust="spacingAndGlyphs">LOADING</text><text x="629.0" y="329.5" font-size="6.5" font-weight="bold" fill="#2b2b2b" text-anchor="middle" textLength="19.7" lengthAdjust="spacingAndGlyphs">OCEAN</text><text x="629.0" y="337.0" font-size="6.5" font-weight="bold" fill="#2b2b2b" text-anchor="middle" textLength="40.2" lengthAdjust="spacingAndGlyphs">ACIDIFICATION</text><text x="550.2" y="379.3" font-size="6.5" font-weight="bold" fill="#2b2b2b" text-anchor="middle" textLength="50.7" lengthAdjust="spacingAndGlyphs">BIOGEOCHEMICAL</text><text x="550.2" y="386.8" font-size="6.5" font-weight="bold" fill="#2b2b2b" text-anchor="middle" textLength="19.7" lengthAdjust="spacingAndGlyphs">FLOWS</text><text x="414.5" y="261.0" font-size="6.5" font-weight="bold" fill="#2b2b2b" text-anchor="middle" textLength="39.4" lengthAdjust="spacingAndGlyphs">LAND-SYSTEM</text><text x="414.5" y="268.7" font-size="6.5" font-weight="bold" fill="#2b2b2b" text-anchor="middle" textLength="23.7" lengthAdjust="spacingAndGlyphs">CHANGE</text><text x="507.5" y="131.5" font-size="6.5" font-weight="bold" fill="#2b2b2b" text-anchor="middle" textLength="49.0" lengthAdjust="spacingAndGlyphs">CLIMATE CHANGE</text><text x="593.8" y="130.6" font-size="6.5" font-weight="bold" fill="#2b2b2b" text-anchor="middle" textLength="44.8" lengthAdjust="spacingAndGlyphs">NOVEL ENTITIES</text><text x="591.8" y="140.4" font-size="5.8" font-weight="normal" font-style="italic" fill="#4a4a4a" text-anchor="middle" textLength="47.0" lengthAdjust="spacingAndGlyphs">(Not yet quantified)</text><text x="673.5" y="275.0" font-size="5.8" font-weight="normal" font-style="italic" fill="#4a4a4a" text-anchor="middle" textLength="47.0" lengthAdjust="spacingAndGlyphs">(Not yet quantified)</text><text x="464.3" y="343.3" font-size="6.5" font-weight="bold" fill="#2b2b2b" text-anchor="middle" textLength="50.6" lengthAdjust="spacingAndGlyphs">FRESHWATER USE</text><text x="529.6" y="357.0" font-size="5.8" font-weight="bold" fill="#2b2b2b" text-anchor="middle" textLength="3.2" lengthAdjust="spacingAndGlyphs">P</text><text x="568.3" y="356.0" font-size="5.8" font-weight="bold" fill="#2b2b2b" text-anchor="middle" textLength="3.5" lengthAdjust="spacingAndGlyphs">N</text><text x="67.8" y="183.0" font-size="6.5" font-weight="bold" fill="#4a1c0c" text-anchor="middle" textLength="32.2" lengthAdjust="spacingAndGlyphs">BIOSPHERE</text><text x="67.8" y="190.7" font-size="6.5" font-weight="bold" fill="#4a1c0c" text-anchor="middle" textLength="29.1" lengthAdjust="spacingAndGlyphs">INTEGRITY</text><text x="419.5" y="171.0" font-size="6.5" font-weight="bold" fill="#2b2b2b" text-anchor="middle" textLength="32.2" lengthAdjust="spacingAndGlyphs">BIOSPHERE</text><text x="419.5" y="178.9" font-size="6.5" font-weight="bold" fill="#2b2b2b" text-anchor="middle" textLength="29.1" lengthAdjust="spacingAndGlyphs">INTEGRITY</text><text x="461.6" y="173.4" font-size="6.3" font-weight="bold" fill="#3a1408" text-anchor="middle" textLength="16.5" lengthAdjust="spacingAndGlyphs">E/MSY</text><text x="438.6" y="202.1" font-size="6.1" font-weight="normal" fill="#222" stroke="#222" stroke-width="0.22" text-anchor="middle" textLength="6.9" lengthAdjust="spacingAndGlyphs">BII</text><text x="433.7" y="209.5" font-size="5.8" font-weight="normal" font-style="italic" fill="#4a4a4a" text-anchor="middle" textLength="47.0" lengthAdjust="spacingAndGlyphs">(Not yet quantified)</text><text x="1053.2" y="178.6" font-size="6.5" font-weight="normal" fill="#2b2b2b" stroke="#2b2b2b" stroke-width="0.3" text-anchor="middle" textLength="68.8" lengthAdjust="spacingAndGlyphs">STRATOSPHERIC OZONE</text><text x="1053.2" y="186.1" font-size="6.5" font-weight="normal" fill="#2b2b2b" stroke="#2b2b2b" stroke-width="0.3" text-anchor="middle" textLength="31.9" lengthAdjust="spacingAndGlyphs">DEPLETION</text><text x="1062.7" y="250.0" font-size="6.5" font-weight="normal" fill="#2b2b2b" stroke="#2b2b2b" stroke-width="0.3" text-anchor="middle" textLength="40.8" lengthAdjust="spacingAndGlyphs">ATMOSPHERIC</text><text x="1062.7" y="257.5" font-size="6.5" font-weight="normal" fill="#2b2b2b" stroke="#2b2b2b" stroke-width="0.3" text-anchor="middle" textLength="27.2" lengthAdjust="spacingAndGlyphs">AEROSOL</text><text x="1062.7" y="265.0" font-size="6.5" font-weight="normal" fill="#2b2b2b" stroke="#2b2b2b" stroke-width="0.3" text-anchor="middle" textLength="25.3" lengthAdjust="spacingAndGlyphs">LOADING</text><text x="1016.4" y="329.5" font-size="6.5" font-weight="normal" fill="#2b2b2b" stroke="#2b2b2b" stroke-width="0.3" text-anchor="middle" textLength="20.0" lengthAdjust="spacingAndGlyphs">OCEAN</text><text x="1016.4" y="337.0" font-size="6.5" font-weight="normal" fill="#2b2b2b" stroke="#2b2b2b" stroke-width="0.3" text-anchor="middle" textLength="40.8" lengthAdjust="spacingAndGlyphs">ACIDIFICATION</text><text x="1449.3" y="178.6" font-size="6.5" font-weight="normal" fill="#2b2b2b" stroke="#2b2b2b" stroke-width="0.3" text-anchor="middle" textLength="68.8" lengthAdjust="spacingAndGlyphs">STRATOSPHERIC OZONE</text><text x="1449.3" y="186.1" font-size="6.5" font-weight="normal" fill="#2b2b2b" stroke="#2b2b2b" stroke-width="0.3" text-anchor="middle" textLength="31.9" lengthAdjust="spacingAndGlyphs">DEPLETION</text><text x="1458.8" y="250.0" font-size="6.5" font-weight="normal" fill="#2b2b2b" stroke="#2b2b2b" stroke-width="0.3" text-anchor="middle" textLength="40.8" lengthAdjust="spacingAndGlyphs">ATMOSPHERIC</text><text x="1458.8" y="257.5" font-size="6.5" font-weight="normal" fill="#2b2b2b" stroke="#2b2b2b" stroke-width="0.3" text-anchor="middle" textLength="27.2" lengthAdjust="spacingAndGlyphs">AEROSOL</text><text x="1458.8" y="265.0" font-size="6.5" font-weight="normal" fill="#2b2b2b" stroke="#2b2b2b" stroke-width="0.3" text-anchor="middle" textLength="25.3" lengthAdjust="spacingAndGlyphs">LOADING</text><text x="1412.5" y="329.5" font-size="6.5" font-weight="normal" fill="#2b2b2b" stroke="#2b2b2b" stroke-width="0.3" text-anchor="middle" textLength="20.0" lengthAdjust="spacingAndGlyphs">OCEAN</text><text x="1412.5" y="337.0" font-size="6.5" font-weight="normal" fill="#2b2b2b" stroke="#2b2b2b" stroke-width="0.3" text-anchor="middle" textLength="40.8" lengthAdjust="spacingAndGlyphs">ACIDIFICATION</text><text x="938.2" y="378.3" font-size="6.5" font-weight="normal" fill="#2b2b2b" stroke="#2b2b2b" stroke-width="0.3" text-anchor="middle" textLength="51.2" lengthAdjust="spacingAndGlyphs">BIOGEOCHEMICAL</text><text x="938.2" y="386.1" font-size="6.5" font-weight="normal" fill="#2b2b2b" stroke="#2b2b2b" stroke-width="0.3" text-anchor="middle" textLength="20.0" lengthAdjust="spacingAndGlyphs">FLOWS</text><text x="811.5" y="260.8" font-size="6.5" font-weight="normal" fill="#2b2b2b" stroke="#2b2b2b" stroke-width="0.3" text-anchor="middle" textLength="40.0" lengthAdjust="spacingAndGlyphs">LAND-SYSTEM</text><text x="811.5" y="268.5" font-size="6.5" font-weight="normal" fill="#2b2b2b" stroke="#2b2b2b" stroke-width="0.3" text-anchor="middle" textLength="24.1" lengthAdjust="spacingAndGlyphs">CHANGE</text><text x="896.2" y="120.8" font-size="6.5" font-weight="normal" fill="#2b2b2b" stroke="#2b2b2b" stroke-width="0.3" text-anchor="middle" textLength="49.6" lengthAdjust="spacingAndGlyphs">CLIMATE CHANGE</text><text x="978.0" y="136.4" font-size="6.5" font-weight="normal" fill="#3a1408" stroke="#3a1408" stroke-width="0.3" text-anchor="middle" textLength="45.7" lengthAdjust="spacingAndGlyphs">NOVEL ENTITIES</text><text x="807.8" y="171.2" font-size="6.5" font-weight="normal" fill="#2b2b2b" stroke="#2b2b2b" stroke-width="0.3" text-anchor="middle" textLength="32.8" lengthAdjust="spacingAndGlyphs">BIOSPHERE</text><text x="807.8" y="178.9" font-size="6.5" font-weight="normal" fill="#2b2b2b" stroke="#2b2b2b" stroke-width="0.3" text-anchor="middle" textLength="30.0" lengthAdjust="spacingAndGlyphs">INTEGRITY</text><text x="854.2" y="344.2" font-size="6.5" font-weight="normal" fill="#2b2b2b" stroke="#2b2b2b" stroke-width="0.3" text-anchor="middle" textLength="64.4" lengthAdjust="spacingAndGlyphs">FRESHWATER CHANGE</text><text x="877.7" y="140.2" font-size="6.1" font-weight="normal" fill="#222" stroke="#222" stroke-width="0.22" text-anchor="middle" textLength="10.6" lengthAdjust="spacingAndGlyphs">CO₂</text><text x="877.7" y="147.5" font-size="6.1" font-weight="normal" fill="#222" stroke="#222" stroke-width="0.22" text-anchor="middle" textLength="33.7" lengthAdjust="spacingAndGlyphs">concentration</text><text x="919.8" y="139.5" font-size="6.1" font-weight="normal" fill="#5a150a" stroke="#5a150a" stroke-width="0.22" text-anchor="middle" textLength="23.4" lengthAdjust="spacingAndGlyphs">Radiative</text><text x="919.8" y="146.8" font-size="6.1" font-weight="normal" fill="#5a150a" stroke="#5a150a" stroke-width="0.22" text-anchor="middle" textLength="16.8" lengthAdjust="spacingAndGlyphs">forcing</text><text x="850.6" y="174.6" font-size="6.1" font-weight="normal" fill="#5a200c" stroke="#5a200c" stroke-width="0.22" text-anchor="middle" textLength="19.3" lengthAdjust="spacingAndGlyphs">Genetic</text><text x="838.0" y="210.0" font-size="6.1" font-weight="normal" fill="#5a150a" stroke="#5a150a" stroke-width="0.22" text-anchor="middle" textLength="25.9" lengthAdjust="spacingAndGlyphs">Functional</text><text x="858.1" y="311.4" font-size="6.1" font-weight="normal" fill="#222" stroke="#222" stroke-width="0.22" text-anchor="middle" textLength="38.7" lengthAdjust="spacingAndGlyphs">Freshwater use</text><text x="858.1" y="318.4" font-size="6.1" font-weight="normal" fill="#222" stroke="#222" stroke-width="0.22" text-anchor="middle" textLength="30.3" lengthAdjust="spacingAndGlyphs">(Blue water)</text><text x="896.8" y="315.8" font-size="6.1" font-weight="normal" fill="#222" stroke="#222" stroke-width="0.22" text-anchor="middle" textLength="15.6" lengthAdjust="spacingAndGlyphs">Green</text><text x="896.8" y="322.8" font-size="6.1" font-weight="normal" fill="#222" stroke="#222" stroke-width="0.22" text-anchor="middle" textLength="13.7" lengthAdjust="spacingAndGlyphs">water</text><text x="920.0" y="348.6" font-size="5.0" font-weight="normal" fill="#4a1208" stroke="#4a1208" stroke-width="0.3" text-anchor="middle" textLength="2.9" lengthAdjust="spacingAndGlyphs">P</text><text x="955.5" y="351.0" font-size="5.0" font-weight="normal" fill="#4a1208" stroke="#4a1208" stroke-width="0.3" text-anchor="middle" textLength="3.1" lengthAdjust="spacingAndGlyphs">N</text><text x="1334.1" y="382.3" font-size="6.5" font-weight="normal" fill="#2b2b2b" stroke="#2b2b2b" stroke-width="0.3" text-anchor="middle" textLength="51.2" lengthAdjust="spacingAndGlyphs">BIOGEOCHEMICAL</text><text x="1334.1" y="390.2" font-size="6.5" font-weight="normal" fill="#2b2b2b" stroke="#2b2b2b" stroke-width="0.3" text-anchor="middle" textLength="20.0" lengthAdjust="spacingAndGlyphs">FLOWS</text><text x="1206.2" y="261.0" font-size="6.5" font-weight="normal" fill="#2b2b2b" stroke="#2b2b2b" stroke-width="0.3" text-anchor="middle" textLength="40.0" lengthAdjust="spacingAndGlyphs">LAND-SYSTEM</text><text x="1206.2" y="268.5" font-size="6.5" font-weight="normal" fill="#2b2b2b" stroke="#2b2b2b" stroke-width="0.3" text-anchor="middle" textLength="24.1" lengthAdjust="spacingAndGlyphs">CHANGE</text><text x="1291.4" y="119.5" font-size="6.5" font-weight="normal" fill="#2b2b2b" stroke="#2b2b2b" stroke-width="0.3" text-anchor="middle" textLength="49.6" lengthAdjust="spacingAndGlyphs">CLIMATE CHANGE</text><text x="1373.8" y="135.6" font-size="6.5" font-weight="normal" fill="#3a1408" stroke="#3a1408" stroke-width="0.3" text-anchor="middle" textLength="45.7" lengthAdjust="spacingAndGlyphs">NOVEL ENTITIES</text><text x="1202.6" y="170.6" font-size="6.5" font-weight="normal" fill="#2b2b2b" stroke="#2b2b2b" stroke-width="0.3" text-anchor="middle" textLength="32.8" lengthAdjust="spacingAndGlyphs">BIOSPHERE</text><text x="1202.6" y="178.3" font-size="6.5" font-weight="normal" fill="#2b2b2b" stroke="#2b2b2b" stroke-width="0.3" text-anchor="middle" textLength="30.0" lengthAdjust="spacingAndGlyphs">INTEGRITY</text><text x="1249.4" y="346.3" font-size="6.5" font-weight="normal" fill="#2b2b2b" stroke="#2b2b2b" stroke-width="0.3" text-anchor="middle" textLength="64.4" lengthAdjust="spacingAndGlyphs">FRESHWATER CHANGE</text><text x="1273.1" y="139.5" font-size="6.1" font-weight="normal" fill="#222" stroke="#222" stroke-width="0.22" text-anchor="middle" textLength="10.6" lengthAdjust="spacingAndGlyphs">CO₂</text><text x="1273.1" y="146.8" font-size="6.1" font-weight="normal" fill="#222" stroke="#222" stroke-width="0.22" text-anchor="middle" textLength="33.7" lengthAdjust="spacingAndGlyphs">concentration</text><text x="1315.2" y="138.3" font-size="6.1" font-weight="normal" fill="#5a150a" stroke="#5a150a" stroke-width="0.22" text-anchor="middle" textLength="23.4" lengthAdjust="spacingAndGlyphs">Radiative</text><text x="1315.2" y="145.6" font-size="6.1" font-weight="normal" fill="#5a150a" stroke="#5a150a" stroke-width="0.22" text-anchor="middle" textLength="16.8" lengthAdjust="spacingAndGlyphs">forcing</text><text x="1245.7" y="174.3" font-size="6.1" font-weight="normal" fill="#5a200c" stroke="#5a200c" stroke-width="0.22" text-anchor="middle" textLength="19.3" lengthAdjust="spacingAndGlyphs">Genetic</text><text x="1233.1" y="210.0" font-size="6.1" font-weight="normal" fill="#5a150a" stroke="#5a150a" stroke-width="0.22" text-anchor="middle" textLength="25.9" lengthAdjust="spacingAndGlyphs">Functional</text><text x="1262.2" y="306.2" font-size="6.1" font-weight="normal" fill="#222" stroke="#222" stroke-width="0.22" text-anchor="middle" textLength="38.7" lengthAdjust="spacingAndGlyphs">Freshwater use</text><text x="1262.2" y="313.1" font-size="6.1" font-weight="normal" fill="#222" stroke="#222" stroke-width="0.22" text-anchor="middle" textLength="30.3" lengthAdjust="spacingAndGlyphs">(Blue water)</text><text x="1291.8" y="318.1" font-size="6.1" font-weight="normal" fill="#222" stroke="#222" stroke-width="0.22" text-anchor="middle" textLength="15.6" lengthAdjust="spacingAndGlyphs">Green</text><text x="1291.8" y="325.0" font-size="6.1" font-weight="normal" fill="#222" stroke="#222" stroke-width="0.22" text-anchor="middle" textLength="13.7" lengthAdjust="spacingAndGlyphs">water</text><text x="1316.5" y="349.8" font-size="5.0" font-weight="normal" fill="#4a1208" stroke="#4a1208" stroke-width="0.3" text-anchor="middle" textLength="2.9" lengthAdjust="spacingAndGlyphs">P</text><text x="1352.0" y="353.0" font-size="5.0" font-weight="normal" fill="#4a1208" stroke="#4a1208" stroke-width="0.3" text-anchor="middle" textLength="3.1" lengthAdjust="spacingAndGlyphs">N</text>
<text x="167.2" y="62.3" font-size="33" font-weight="bold" text-anchor="middle" fill="#000" textLength="76" lengthAdjust="spacingAndGlyphs">2009</text><text x="549.8" y="62.3" font-size="33" font-weight="bold" text-anchor="middle" fill="#000" textLength="76" lengthAdjust="spacingAndGlyphs">2015</text><text x="937.8" y="62.3" font-size="33" font-weight="bold" text-anchor="middle" fill="#000" textLength="76" lengthAdjust="spacingAndGlyphs">2023</text><text x="1314.5" y="62.3" font-size="33" font-weight="bold" text-anchor="middle" fill="#000" textLength="76" lengthAdjust="spacingAndGlyphs">2025</text><text x="166" y="462" font-size="23.5" text-anchor="middle" fill="#111" textLength="237.5" lengthAdjust="spacingAndGlyphs">7 boundaries assessed,</text><text x="166" y="490.3" font-size="23.5" text-anchor="middle" fill="#111" textLength="100" lengthAdjust="spacingAndGlyphs">3 crossed</text><text x="558" y="462" font-size="23.5" text-anchor="middle" fill="#111" textLength="237.5" lengthAdjust="spacingAndGlyphs">7 boundaries assessed,</text><text x="558" y="490.3" font-size="23.5" text-anchor="middle" fill="#111" textLength="100" lengthAdjust="spacingAndGlyphs">4 crossed</text><text x="938" y="462" font-size="23.5" text-anchor="middle" fill="#111" textLength="237.5" lengthAdjust="spacingAndGlyphs">9 boundaries assessed,</text><text x="938" y="490.3" font-size="23.5" text-anchor="middle" fill="#111" textLength="100" lengthAdjust="spacingAndGlyphs">6 crossed</text><text x="1335" y="462" font-size="23.5" text-anchor="middle" fill="#111" textLength="237.5" lengthAdjust="spacingAndGlyphs">9 boundaries assessed,</text><text x="1335" y="490.3" font-size="23.5" text-anchor="middle" fill="#111" textLength="100" lengthAdjust="spacingAndGlyphs">7 crossed</text><text x="23.8" y="547.5" font-size="17" fill="#111" textLength="1105" lengthAdjust="spacingAndGlyphs">The evolution of the planetary boundaries framework. (Image Credit: Azote for Stockholm Resilience Centre, Stockholm University. Based on</text><text x="23.5" y="574.1" font-size="17" fill="#111" textLength="844.5" lengthAdjust="spacingAndGlyphs">Sakschewski and Caesar et al. 2025, Richardson et al. 2023, Steffen et al. 2015, and Rockström et al. 2009).</text><line x1="353.6" y1="29.7" x2="353.6" y2="497.5" stroke="#000" stroke-width="3.3" stroke-linecap="round" stroke-dasharray="0 8.504"/><line x1="745.6" y1="29.7" x2="745.6" y2="497.5" stroke="#000" stroke-width="3.3" stroke-linecap="round" stroke-dasharray="0 8.504"/><line x1="1137.1" y1="29.7" x2="1137.1" y2="497.5" stroke="#000" stroke-width="3.3" stroke-linecap="round" stroke-dasharray="0 8.504"/>
</svg>
</body></html>
